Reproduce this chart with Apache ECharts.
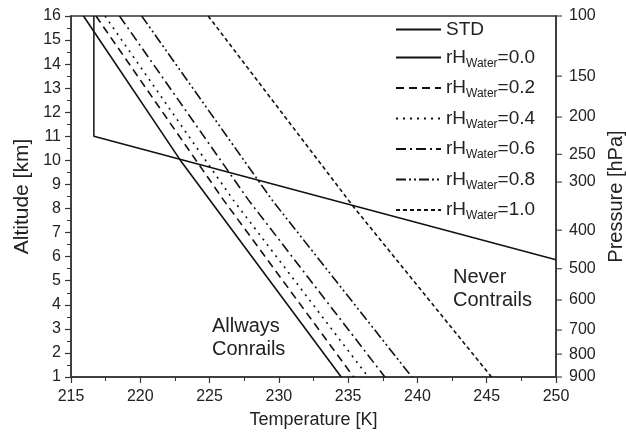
<!DOCTYPE html>
<html>
<head>
<meta charset="utf-8">
<script src="https://cdn.jsdelivr.net/npm/echarts@6/dist/echarts.min.js"></script>
<style>html,body{margin:0;padding:0;background:#fff;}#c{width:626px;height:441px;}</style>
</head>
<body>
<div id="c"></div>
<script>
// Standard atmosphere profile [T (K), altitude (km)]
const stdProfile = [[216.65, 16], [216.65, 11], [250, 5.87]];
// Contrail threshold lines for relative humidity over water
const rh00 = [[215.9, 16], [222.9, 10.0], [234.5, 1]];
const rh02 = [[216.8, 16], [226.0, 8.36], [235.4, 1]];
const rh04 = [[217.45, 16], [226.7, 8.36], [236.45, 1]];
const rh06 = [[218.5, 16], [227.8, 8.36], [237.65, 1]];
const rh08 = [[220.1, 16], [229.5, 8.36], [239.6, 1]];
const rh10 = [[224.9, 16], [235.35, 8.1], [245.35, 1]];
const rhValues = ['0.0', '0.2', '0.4', '0.6', '0.8', '1.0'];
// Pressure axis labels and their altitudes (km)
const pressLabels = ['100', '150', '200', '250', '300', '400', '500', '600', '700', '800', '900'];
const pressAlt = [16, 13.5, 11.8, 10.25, 9.1, 7.1, 5.5, 4.2, 2.95, 1.95, 1];

const chart = echarts.init(document.getElementById('c'), null, {renderer: 'canvas'});
const FONT = 'Liberation Sans, Arial, sans-serif';
const AX = '#333';
const TXT = '#222';
const dashes = ['solid', [8, 5], [2, 5], [10, 4, 2, 4], [10, 3, 2, 3, 2, 3], [4, 3]];
const rhData = [rh00, rh02, rh04, rh06, rh08, rh10];

const series = [{
  name: 'STD', type: 'line', data: stdProfile, showSymbol: false, symbol: 'none',
  lineStyle: {color: '#111', width: 1.5, type: 'solid'}, itemStyle: {color: '#111'}, silent: true
}];
rhValues.forEach((v, i) => {
  series.push({
    name: 'rH' + v, type: 'line', data: rhData[i], showSymbol: false, symbol: 'none',
    lineStyle: {color: '#111', width: 1.6, type: dashes[i]}, itemStyle: {color: '#111'}, silent: true
  });
});
// Right-hand pressure axis tick marks, placed at the pressure-level altitudes
series.push({
  name: 'pressTicks', type: 'scatter', xAxisIndex: 0, yAxisIndex: 1, clip: false, silent: true,
  data: pressAlt.map(a => [250, a]), symbol: 'rect', symbolSize: [6, 1.3], symbolOffset: [3, 0],
  itemStyle: {color: AX}, z: 5
});

const option = {
  animation: false,
  backgroundColor: '#fff',
  textStyle: {fontFamily: FONT},
  grid: {left: 71, right: 70, top: 16, bottom: 64, show: true, borderColor: AX, borderWidth: 1.5,
         containLabel: false, outerBoundsMode: 'none'},
  legend: {
    orient: 'vertical', left: 390, top: 15, itemWidth: 45, itemHeight: 14, itemGap: 9,
    selectedMode: false,
    itemStyle: {opacity: 0},
    data: ['STD'].concat(rhValues.map(v => 'rH' + v)),
    formatter: function (name) {
      if (name === 'STD') return '{a|STD}';
      return '{a|rH}{s|Water}{a|=' + name.slice(2) + '}';
    },
    textStyle: {
      fontFamily: FONT, color: TXT, fontSize: 19,
      rich: {
        a: {fontFamily: FONT, fontSize: 19, color: TXT, lineHeight: 24},
        s: {fontFamily: FONT, fontSize: 12, color: TXT, lineHeight: 11, verticalAlign: 'bottom'}
      }
    }
  },
  xAxis: [{
    type: 'value', min: 215, max: 250, interval: 5, position: 'bottom',
    name: 'Temperature [K]', nameLocation: 'middle', nameGap: 34,
    nameTextStyle: {fontFamily: FONT, fontSize: 18, color: TXT},
    axisLine: {show: true, lineStyle: {color: AX, width: 1.5}},
    axisTick: {show: true, inside: false, length: 6, lineStyle: {color: AX, width: 1.2}},
    minorTick: {show: true, splitNumber: 2, length: 4, lineStyle: {color: AX, width: 1}},
    axisLabel: {fontFamily: FONT, fontSize: 16, color: TXT, margin: 12},
    splitLine: {show: false}
  }],
  yAxis: [{
    type: 'value', min: 1, max: 16, interval: 1, position: 'left',
    name: 'Altitude [km]', nameLocation: 'middle', nameGap: 33, nameRotate: 90,
    nameTextStyle: {fontFamily: FONT, fontSize: 21, color: TXT},
    axisLine: {show: true, lineStyle: {color: AX, width: 1.5}},
    axisTick: {show: true, inside: false, length: 6, lineStyle: {color: AX, width: 1.2}},
    minorTick: {show: true, splitNumber: 2, length: 4, lineStyle: {color: AX, width: 1}},
    axisLabel: {fontFamily: FONT, fontSize: 16, color: TXT, margin: 10},
    splitLine: {show: false}
  }, {
    type: 'value', min: 1, max: 16, position: 'right',
    name: 'Pressure [hPa]', nameLocation: 'middle', nameGap: 50, nameRotate: 90,
    nameTextStyle: {fontFamily: FONT, fontSize: 20, color: TXT},
    axisLine: {show: true, lineStyle: {color: AX, width: 1.5}},
    axisTick: {show: false},
    axisLabel: {
      fontFamily: FONT, fontSize: 16, color: TXT, margin: 13, customValues: pressAlt,
      formatter: function (val) {
        let best = 0, bd = 1e9;
        pressAlt.forEach((a, i) => { const d = Math.abs(a - val); if (d < bd) { bd = d; best = i; } });
        return pressLabels[best];
      }
    },
    splitLine: {show: false}
  }],
  graphic: [
    {type: 'text', left: 212, top: 315, style: {text: 'Allways\nConrails', font: '20px ' + FONT, fill: TXT, lineHeight: 23}},
    {type: 'text', left: 453, top: 266, style: {text: 'Never\nContrails', font: '20px ' + FONT, fill: TXT, lineHeight: 23}}
  ],
  series: series
};
chart.setOption(option);
</script>
</body>
</html>
